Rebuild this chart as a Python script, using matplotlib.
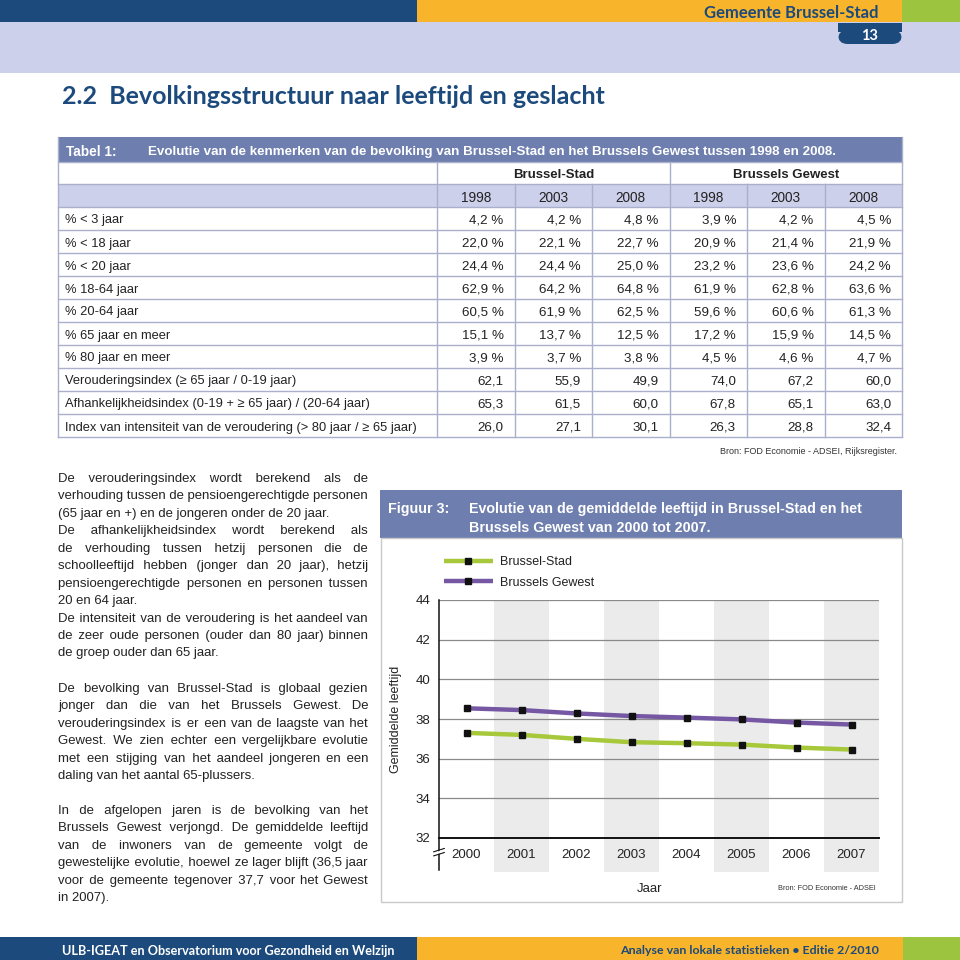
import matplotlib
matplotlib.use("Agg")
import matplotlib.pyplot as plt
from matplotlib.patches import Rectangle, FancyBboxPatch
from matplotlib.lines import Line2D

# ---------------- data ----------------
years = [2000, 2001, 2002, 2003, 2004, 2005, 2006, 2007]
brussel_stad = [37.30, 37.20, 37.00, 36.83, 36.78, 36.71, 36.56, 36.46]
brussels_gewest = [38.54, 38.45, 38.28, 38.15, 38.07, 37.98, 37.82, 37.72]
series_names = ["Brussel-Stad", "Brussels Gewest"]
yticks = [32, 34, 36, 38, 40, 42, 44]

table_groups = ["Brussel-Stad", "Brussels Gewest"]
table_years = ["1998", "2003", "2008", "1998", "2003", "2008"]
row_labels = [
    "% < 3 jaar", "% < 18 jaar", "% < 20 jaar", "% 18-64 jaar", "% 20-64 jaar",
    "% 65 jaar en meer", "% 80 jaar en meer",
    "Verouderingsindex (\u2265 65 jaar / 0-19 jaar)",
    "Afhankelijkheidsindex (0-19 + \u2265 65 jaar) / (20-64 jaar)",
    "Index van intensiteit van de veroudering (> 80 jaar / \u2265 65 jaar)",
]
row_is_pct = [True] * 7 + [False] * 3
stad_1998 = [4.2, 22.0, 24.4, 62.9, 60.5, 15.1, 3.9, 62.1, 65.3, 26.0]
stad_2003 = [4.2, 22.1, 24.4, 64.2, 61.9, 13.7, 3.7, 55.9, 61.5, 27.1]
stad_2008 = [4.8, 22.7, 25.0, 64.8, 62.5, 12.5, 3.8, 49.9, 60.0, 30.1]
gew_1998 = [3.9, 20.9, 23.2, 61.9, 59.6, 17.2, 4.5, 74.0, 67.8, 26.3]
gew_2003 = [4.2, 21.4, 23.6, 62.8, 60.6, 15.9, 4.6, 67.2, 65.1, 28.8]
gew_2008 = [4.5, 21.9, 24.2, 63.6, 61.3, 14.5, 4.7, 60.0, 63.0, 32.4]
table_columns = [stad_1998, stad_2003, stad_2008, gew_1998, gew_2003, gew_2008]

para1 = [
    "De verouderingsindex wordt berekend als de",
    "verhouding tussen de pensioengerechtigde personen",
    "(65 jaar en +) en de jongeren onder de 20 jaar.",
    "De afhankelijkheidsindex wordt berekend als",
    "de verhouding tussen hetzij personen die de",
    "schoolleeftijd hebben (jonger dan 20 jaar), hetzij",
    "pensioengerechtigde personen en personen tussen",
    "20 en 64 jaar.",
    "De intensiteit van de veroudering is het aandeel van",
    "de zeer oude personen (ouder dan 80 jaar) binnen",
    "de groep ouder dan 65 jaar.",
]
para1_last = [2, 7, 10]
para2 = [
    "De bevolking van Brussel-Stad is globaal gezien",
    "jonger dan die van het Brussels Gewest. De",
    "verouderingsindex is er een van de laagste van het",
    "Gewest. We zien echter een vergelijkbare evolutie",
    "met een stijging van het aandeel jongeren en een",
    "daling van het aantal 65-plussers.",
]
para3 = [
    "In de afgelopen jaren is de bevolking van het",
    "Brussels Gewest verjongd. De gemiddelde leeftijd",
    "van de inwoners van de gemeente volgt de",
    "gewestelijke evolutie, hoewel ze lager blijft (36,5 jaar",
    "voor de gemeente tegenover 37,7 voor het Gewest",
    "in 2007).",
]

# ---------------- colours / fonts ----------------
DARK = "#1c4a7c"
ORANGE = "#f8b42b"
LGREEN = "#9cc43e"
LAV = "#cdd0ea"
SLATE = "#6e7eae"
GRID_T = "#aab0cc"
C_GREEN = "#a6c83a"
C_PURPLE = "#7657a3"
NARROW = ["Liberation Sans", "DejaVu Sans"]
BODY = ["Liberation Sans", "DejaVu Sans"]
GILL = ["Lato", "DejaVu Sans"]

W = H = 960
fig = plt.figure(figsize=(9.6, 9.6), dpi=100)
fig.patch.set_facecolor("white")
renderer = fig.canvas.get_renderer()


def fx(x):
    return x / W


def fy(y):
    return 1 - y / H


def rect(x0, y0, x1, y1, **kw):
    r = Rectangle((fx(x0), fy(y1)), fx(x1) - fx(x0), fy(y0) - fy(y1),
                  transform=fig.transFigure, **kw)
    fig.add_artist(r)
    return r


def hline(x0, x1, y, **kw):
    fig.add_artist(Line2D([fx(x0), fx(x1)], [fy(y), fy(y)], transform=fig.transFigure, **kw))


def vline(x, y0, y1, **kw):
    fig.add_artist(Line2D([fx(x), fx(x)], [fy(y0), fy(y1)], transform=fig.transFigure, **kw))


def txt(x, y, s, **kw):
    kw.setdefault("va", "center_baseline")
    return fig.text(fx(x), fy(y), s, **kw)


# ---------------- page header ----------------
rect(0, 0, 417, 22.5, color=DARK, lw=0)
rect(417, 0, 902, 22.5, color=ORANGE, lw=0)
rect(902, 0, 960, 22.5, color=LGREEN, lw=0)
rect(0, 22.5, 960, 73, color=LAV, lw=0)
tab = FancyBboxPatch((fx(838), fy(44)), fx(902) - fx(838), fy(30) - fy(44),
                     boxstyle="round,pad=0,rounding_size=0.01",
                     transform=fig.transFigure, color=DARK, lw=0)
fig.add_artist(tab)
rect(838, 22.5, 902, 32, color=DARK, lw=0)
txt(879, 12, "Gemeente Brussel-Stad", ha="right", color=DARK, fontsize=12,
    fontweight="bold", family=GILL)
txt(870, 34.5, "13", ha="center", color="white", fontsize=10.5, fontweight="bold", family=GILL)
txt(62, 95, "2.2  Bevolkingsstructuur naar leeftijd en geslacht", ha="left", color=DARK,
    fontsize=18, fontweight="bold", family=GILL)

# ---------------- footer ----------------
rect(0, 937, 417, 960, color=DARK, lw=0)
rect(417, 937, 903, 960, color=ORANGE, lw=0)
rect(903, 937, 960, 960, color=LGREEN, lw=0)
txt(62, 950, "ULB-IGEAT en Observatorium voor Gezondheid en Welzijn", ha="left",
    color="white", fontsize=9.1, fontweight="bold", family=GILL)
txt(879, 950, "Analyse van lokale statistieken \u2022 Editie 2/2010", ha="right",
    color=DARK, fontsize=8.9, fontweight="bold", family=GILL)

# ---------------- table ----------------
TL, TR = 58, 902
col_edges = [437, 514.5, 592, 669.5, 747, 824.5, 902]
rect(TL, 137, TR, 162, color=SLATE, lw=0)
txt(66, 150, "Tabel 1:", ha="left", color="white", fontsize=9.8, fontweight="bold", family=NARROW)
txt(148, 150, "Evolutie van de kenmerken van de bevolking van Brussel-Stad en het Brussels Gewest tussen 1998 en 2008.",
    ha="left", color="white", fontsize=9.6, fontweight="bold", family=NARROW)
rect(TL, 184, TR, 207, color=LAV, lw=0)
row_top = 207
row_h = 23
n_rows = len(row_labels)
t_bottom = row_top + n_rows * row_h
lc = dict(color=GRID_T, lw=1)
hline(TL, TR, 162, **lc)
hline(TL, TR, 184, **lc)
for i in range(n_rows + 1):
    hline(TL, TR, row_top + i * row_h, **lc)
vline(TL, 137, t_bottom, **lc)
vline(TR, 137, t_bottom, **lc)
vline(col_edges[0], 162, t_bottom, **lc)
vline(col_edges[3], 162, t_bottom, **lc)
for xe in col_edges[1:3] + col_edges[4:6]:
    vline(xe, 184, t_bottom, **lc)
for g, name in enumerate(table_groups):
    xc = (col_edges[3 * g] + col_edges[3 * g + 3]) / 2
    txt(xc, 173.5, name, ha="center", color="#222222", fontsize=9.5, fontweight="bold", family=NARROW)
for j, yr in enumerate(table_years):
    xc = (col_edges[j] + col_edges[j + 1]) / 2
    txt(xc, 196.5, yr, ha="center", color="#222222", fontsize=9.8, family=NARROW)
for i, lab in enumerate(row_labels):
    yc = row_top + i * row_h + row_h / 2 + 0.5
    txt(65, yc, lab, ha="left", color="#222222", fontsize=9.3, family=NARROW)
    for j, col in enumerate(table_columns):
        v = col[i]
        s = f"{v:.1f}".replace(".", ",") + (" %" if row_is_pct[i] else "")
        txt(col_edges[j + 1] - 11, yc, s, ha="right", color="#222222", fontsize=9.6, family=NARROW)
txt(897, 450, "Bron: FOD Economie - ADSEI, Rijksregister.", ha="right", color="#333333",
    fontsize=6.5, family=BODY)

# ---------------- body text (justified with hair spaces, one text per line) ----------------
BODY_KW = dict(fontsize=9.45, family=BODY, color="#222222", va="baseline")
X0, X1 = 58, 368
HAIR = "\u200a"


def text_width(s):
    t = fig.text(0, 0, s, **BODY_KW)
    w_ = t.get_window_extent(renderer).width
    t.remove()
    return w_


hair_w = (text_width("x" + HAIR * 20 + "x") - text_width("xx")) / 20.0


def justified(lines, y0, dy, last_idx):
    for k, line in enumerate(lines):
        y = round(y0 + k * dy)
        if k in last_idx or hair_w <= 0:
            txt(X0, y, line, ha="left", **BODY_KW)
            continue
        words = line.split(" ")
        gaps = len(words) - 1
        extra = (X1 - X0) - text_width(line)
        n_total = max(0, int(round(extra / hair_w)))
        base, rem = divmod(n_total, gaps)
        out = words[0]
        for g in range(gaps):
            n = base + (1 if g < rem else 0)
            out += " " + HAIR * n + words[g + 1]
        txt(X0, y, out, ha="left", **BODY_KW)


justified(para1, 482, 17.45, para1_last)
justified(para2, 692, 17.45, [len(para2) - 1])
justified(para3, 814, 17.45, [len(para3) - 1])

# ---------------- figure box ----------------
rect(380, 490, 902, 538, color=SLATE, lw=0)
rect(380.5, 538, 901.5, 902, fill=False, edgecolor="#c9c9c9", lw=1)
txt(388, 507, "Figuur 3:", ha="left", color="white", fontsize=10.3, fontweight="bold", family=NARROW)
txt(469, 507, "Evolutie van de gemiddelde leeftijd in Brussel-Stad en het", ha="left",
    color="white", fontsize=10.3, fontweight="bold", family=NARROW)
txt(469, 526, "Brussels Gewest van 2000 tot 2007.", ha="left",
    color="white", fontsize=10.3, fontweight="bold", family=NARROW)

# ---------------- chart ----------------
AX_L, AX_R, AX_T, AX_B = 439, 879, 600, 838
ax = fig.add_axes([fx(AX_L), fy(AX_B), fx(AX_R) - fx(AX_L), fy(AX_T) - fy(AX_B)])
ax.set_facecolor("none")
ax.set_xlim(years[0] - 0.5, years[-1] + 0.5)
ax.set_ylim(yticks[0], yticks[-1])
band_ext = (AX_B - 872) / (AX_B - AX_T)
for k, yr in enumerate(years):
    if k % 2 == 1:
        ax.axvspan(yr - 0.5, yr + 0.5, ymin=band_ext, ymax=1, color="#ebebeb", lw=0,
                   zorder=0, clip_on=False)
for yv in yticks[1:]:
    ax.axhline(yv, color="#8a8a8a", lw=0.9, zorder=1)
ax.plot(years, brussel_stad, color=C_GREEN, lw=3.2, marker="s", ms=4,
        mfc="#111111", mec="#111111", label=series_names[0], zorder=3, solid_capstyle="butt")
ax.plot(years, brussels_gewest, color=C_PURPLE, lw=3.2, marker="s", ms=4,
        mfc="#111111", mec="#111111", label=series_names[1], zorder=3, solid_capstyle="butt")
for s in ["top", "right"]:
    ax.spines[s].set_visible(False)
ax.spines["left"].set_color("#111111")
ax.spines["left"].set_linewidth(1.1)
ax.spines["bottom"].set_color("#111111")
ax.spines["bottom"].set_linewidth(1.4)
ax.set_xticks(years)
ax.set_xticklabels([str(y) for y in years], family=NARROW, fontsize=9.5, color="#222222")
ax.set_yticks(yticks)
ax.set_yticklabels([str(v) for v in yticks], family=NARROW, fontsize=9.5, color="#222222")
ax.tick_params(axis="both", length=0)
ax.tick_params(axis="x", pad=8)
ax.tick_params(axis="y", pad=6)
ax.set_ylabel("Gemiddelde leeftijd", family=NARROW, fontsize=9, color="#222222")
ax.yaxis.set_label_coords((402 - AX_L) / (AX_R - AX_L), 0.5)
ax.set_xlabel("Jaar", family=NARROW, fontsize=9.5, color="#222222")
ax.xaxis.set_label_coords((650 - AX_L) / (AX_R - AX_L), (AX_B - 883) / (AX_B - AX_T))
ax.add_artist(Line2D([0, 0], [0, (AX_B - 870) / (AX_B - AX_T)], transform=ax.transAxes,
                     color="#111111", lw=1.1, clip_on=False))
bx = [-0.012, 0.012]
ax.add_artist(Line2D(bx, [-0.058, -0.044], transform=ax.transAxes, color="#111111", lw=0.8, clip_on=False))
ax.add_artist(Line2D(bx, [-0.075, -0.061], transform=ax.transAxes, color="#111111", lw=0.8, clip_on=False))
ax.add_artist(Line2D([-0.003, 0.003], [-0.062, -0.058], transform=ax.transAxes, color="white", lw=1.6, clip_on=False))
leg = ax.legend(loc="upper left", bbox_to_anchor=(fx(444), fy(556)), bbox_transform=fig.transFigure,
                frameon=False, handlelength=3.9, handletextpad=0.6, labelspacing=0.7,
                prop={"family": NARROW, "size": 9}, borderaxespad=0, borderpad=0)
for t in leg.get_texts():
    t.set_color("#222222")
txt(876, 887, "Bron: FOD Economie - ADSEI", ha="right", color="#333333", fontsize=5.3, family=BODY)

fig.savefig("out.png", dpi=100, facecolor="white")
